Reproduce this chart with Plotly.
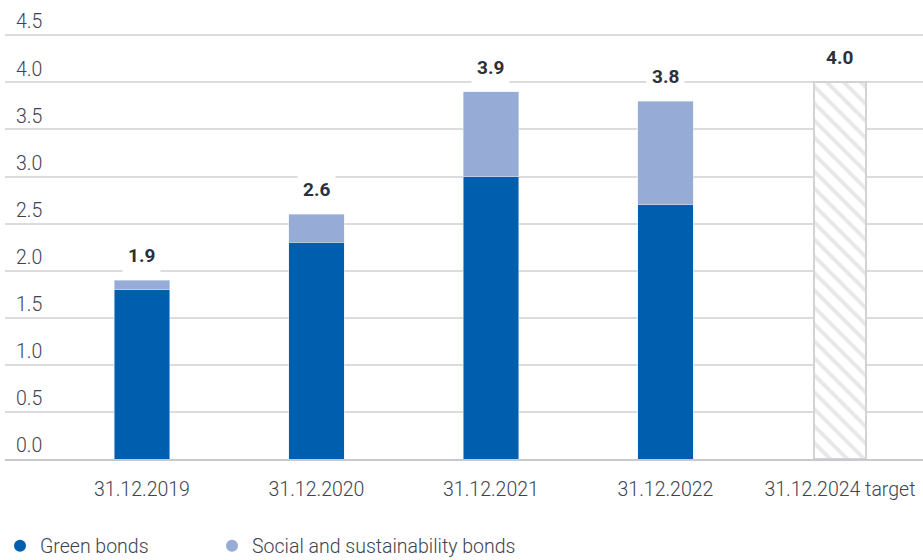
import plotly.graph_objects as go

categories = ["31.12.2019", "31.12.2020", "31.12.2021", "31.12.2022", "31.12.2024 target"]
green = [1.8, 2.3, 3.0, 2.7, None]
social = [0.1, 0.3, 0.9, 1.1, None]
target = [None, None, None, None, 4.0]
totals = [1.9, 2.6, 3.9, 3.8, 4.0]
total_labels = ["1.9", "2.6", "3.9", "3.8", "4.0"]
y_ticks = [0, 0.5, 1, 1.5, 2, 2.5, 3, 3.5, 4, 4.5]

C_GREEN = "#005EAF"
C_SOCIAL = "#97ABD7"
FONT = "Roboto"
TXT = "#3d4350"
FS = 19.5

fig = go.Figure()
fig.add_trace(go.Bar(x=categories, y=green, marker_color=C_GREEN, width=0.32,
                     showlegend=False, hoverinfo="skip"))
fig.add_trace(go.Bar(x=categories, y=social, marker_color=C_SOCIAL, width=0.32,
                     showlegend=False, hoverinfo="skip"))
fig.add_trace(go.Bar(x=categories, y=target, width=0.30, showlegend=False, hoverinfo="skip",
                     marker=dict(color="white", line=dict(color="#d3d3d6", width=2),
                                 pattern=dict(shape="\\", fgcolor="#cfcfd2", bgcolor="white",
                                              size=12, solidity=0.33))))
# legend entries with circle markers
fig.add_trace(go.Scatter(x=[None], y=[None], mode="markers", name="Green bonds", legend="legend",
                         marker=dict(color=C_GREEN, size=15, symbol="circle")))
fig.add_trace(go.Scatter(x=[None], y=[None], mode="markers", name="Social and sustainability bonds",
                         legend="legend2",
                         marker=dict(color=C_SOCIAL, size=15, symbol="circle")))

for c, t, lab in zip(categories, totals, total_labels):
    fig.add_annotation(x=c, y=t, text="<b>" + lab + "</b>", showarrow=False,
                       yanchor="bottom", yshift=7, bgcolor="white", borderpad=5,
                       font=dict(family=FONT, size=19, color="#2b303b"))

leg_common = dict(orientation="h", xref="paper", yref="container", y=0.025,
                  xanchor="left", yanchor="middle", bgcolor="rgba(0,0,0,0)",
                  font=dict(family=FONT, size=FS, color=TXT, weight=300),
                  itemsizing="constant")

fig.update_layout(
    barmode="stack",
    width=923, height=560,
    margin=dict(l=5, r=0, t=7, b=101),
    plot_bgcolor="white", paper_bgcolor="white",
    font=dict(family=FONT, size=FS, color=TXT, weight=300),
    xaxis=dict(type="category", range=[-0.785, 4.476], showgrid=False,
               showline=True, linecolor="#c8c9cc", linewidth=2,
               ticks="outside", ticklen=12, tickcolor="rgba(0,0,0,0)",
               tickfont=dict(family=FONT, size=FS, color=TXT, weight=300)),
    yaxis=dict(range=[0, 4.8], tickvals=y_ticks,
               tickformat=".1f", showgrid=True,
               gridcolor="#dcdcde", gridwidth=1.5, zeroline=False,
               ticklabelposition="inside top", ticklabelstandoff=8,
               tickfont=dict(family=FONT, size=FS, color=TXT, weight=300)),
    legend=dict(x=-0.011, **leg_common),
    legend2=dict(x=0.2255, **leg_common),
)
fig.write_html("out.html")
